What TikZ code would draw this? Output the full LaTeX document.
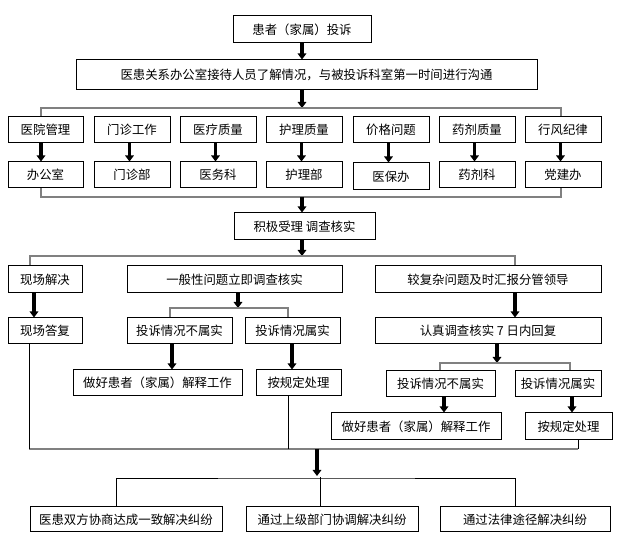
\documentclass[tikz,border=0pt]{standalone}
\usepackage{fontspec}
\newfontfamily\cjk{Noto Sans CJK SC}
\usetikzlibrary{arrows.meta,calc}
\definecolor{lg}{RGB}{128,128,128}
\begin{document}
\begin{tikzpicture}[x=1pt,y=-1pt,
  box/.style={draw, line width=1pt, inner sep=0pt, font=\cjk\fontsize{12.4}{14}\selectfont},
  arr/.style={line width=3.6pt, -{Triangle[width=8.5pt,length=6pt]}},
  gline/.style={draw=lg, line width=1.6pt},
  tline/.style={draw=black, line width=0.9pt}]
\useasboundingbox (0,0) rectangle (625,540);
% row A, B
\node[box, minimum width=138pt, minimum height=27pt] (A) at (302,29.5) {患者（家属）投诉};
\node[box, minimum width=461pt, minimum height=30pt] (B) at (306.5,75) {医患关系办公室接待人员了解情况，与被投诉科室第一时间进行沟通};
% categories
\node[box, minimum width=75pt, minimum height=26pt] (c1) at (45.5,130) {医院管理};
\node[box, minimum width=76pt, minimum height=26pt] (c2) at (132,130) {门诊工作};
\node[box, minimum width=76pt, minimum height=26pt] (c3) at (218,130) {医疗质量};
\node[box, minimum width=76pt, minimum height=26pt] (c4) at (304,130) {护理质量};
\node[box, minimum width=76pt, minimum height=26pt] (c5) at (391,130) {价格问题};
\node[box, minimum width=76pt, minimum height=26pt] (c6) at (477,130) {药剂质量};
\node[box, minimum width=76pt, minimum height=26pt] (c7) at (563,130) {行风纪律};
\node[box, minimum width=75pt, minimum height=26pt] (d1) at (45.5,175) {办公室};
\node[box, minimum width=76pt, minimum height=26pt] (d2) at (132,175) {门诊部};
\node[box, minimum width=76pt, minimum height=26pt] (d3) at (218,175) {医务科};
\node[box, minimum width=76pt, minimum height=26pt] (d4) at (304,175) {护理部};
\node[box, minimum width=76pt, minimum height=27pt] (d5) at (391,176.5) {医保办};
\node[box, minimum width=76pt, minimum height=26pt] (d6) at (477,175) {药剂科};
\node[box, minimum width=76pt, minimum height=26pt] (d7) at (563,175) {党建办};
% C
\node[box, minimum width=141pt, minimum height=27pt] (C) at (304.5,226.5) {积极受理 调查核实};
% D row
\node[box, minimum width=74pt, minimum height=27pt] (D1) at (45,279.5) {现场解决};
\node[box, minimum width=215pt, minimum height=27pt] (D2) at (234.5,279.5) {一般性问题立即调查核实};
\node[box, minimum width=226pt, minimum height=27pt] (D3) at (488,279.5) {较复杂问题及时汇报分管领导};
% E row
\node[box, minimum width=74pt, minimum height=26pt] (E1) at (45,331) {现场答复};
\node[box, minimum width=105pt, minimum height=26pt] (E2) at (179.5,331) {投诉情况不属实};
\node[box, minimum width=95pt, minimum height=26pt] (E3) at (292.5,331) {投诉情况属实};
\node[box, minimum width=226pt, minimum height=26pt] (E4) at (488,331) {认真调查核实 7 日内回复};
% F row
\node[box, minimum width=169pt, minimum height=26pt] (F1) at (157.5,383) {做好患者（家属）解释工作};
\node[box, minimum width=85pt, minimum height=26pt] (F2) at (298.5,383) {按规定处理};
\node[box, minimum width=109pt, minimum height=26pt] (F3) at (440.5,384) {投诉情况不属实};
\node[box, minimum width=86pt, minimum height=26pt] (F4) at (558,384) {投诉情况属实};
% G row
\node[box, minimum width=170pt, minimum height=27pt] (G1) at (416,426.5) {做好患者（家属）解释工作};
\node[box, minimum width=87pt, minimum height=27pt] (G2) at (568.5,426.5) {按规定处理};
% H row
\node[box, minimum width=192pt, minimum height=25pt] (H1) at (126,519.5) {医患双方协商达成一致解决纠纷};
\node[box, minimum width=172pt, minimum height=25pt] (H2) at (332,519.5) {通过上级部门协调解决纠纷};
\node[box, minimum width=170pt, minimum height=25pt] (H3) at (525,519.5) {通过法律途径解决纠纷};

% junction coordinates
\coordinate (j1) at (302,108);
\coordinate (j2) at (302,197);
\coordinate (j3) at (302,256);
\coordinate (j4) at (238,308);
\coordinate (j5) at (497,363);
\coordinate (m)  at (317,449);
\coordinate (m1) at (29,449);
\coordinate (m2) at (578,449);
\coordinate (j6) at (317,476);

% A -> B -> categories
\draw[arr] (A.south) -- ($(B.north)+(-4.5,0)$);
\draw[arr] ($(B.south)+(-4.5,0)$) -- (j1);
\draw[gline] ($(c1.north)+(-4.5,0)$) |- (j1) -| ($(c7.north)+(-2,0)$);
\draw[arr] ($(c1.south)+(-4.5,0)$) -- ($(d1.north)+(-4.5,0)$);
\foreach \i in {2,3,4,5,6,7}{
  \draw[arr] ($(c\i.south)+(-2.5,0)$) -- ($(d\i.north)+(-2.5,0)$);
}
\draw[gline] ($(d1.south)+(-4.5,0)$) |- (j2) -| ($(d7.south)+(-2,0)$);
\draw[arr] (j2) -- ($(C.north)+(-2.5,0)$);
% C -> D
\draw[arr] ($(C.south)+(-2.5,0)$) -- (j3);
\draw[gline] ($(D1.north)+(-15,0)$) |- (j3) -| ($(D3.north)+(27,0)$);
% D -> E
\draw[arr] ($(D1.south)+(-11,0)$) -- ($(E1.north)+(-11,0)$);
\draw[arr] ($(D2.south)+(3.5,0)$) -- (j4);
\draw[gline] ($(E2.north)+(-9.5,0)$) |- (j4) -| ($(E3.north)+(-4.5,0)$);
\draw[arr] ($(D3.south)+(27,0)$) -- ($(E4.north)+(27,0)$);
% E -> F
\draw[arr] ($(E2.south)+(-7.5,0)$) -- ($(F1.north)+(14.5,0)$);
\draw[arr] ($(E3.south)+(-0.5,0)$) -- ($(F2.north)+(-6.5,0)$);
\draw[arr] ($(E4.south)+(9,0)$) -- (j5);
\draw[gline] ($(F3.north)+(-0.5,0)$) |- (j5) -| ($(F4.north)+(12,0)$);
% F -> G
\draw[arr] ($(F3.south)+(3.5,0)$) -- ($(G1.north)+(28,0)$);
\draw[arr] ($(F4.south)+(14,0)$) -- ($(G2.north)+(3.5,0)$);
% merge
\draw[gline] (m1) -- (m2);
\draw[tline] ($(E1.south)+(-16,0)$) -- (m1);
\coordinate (f2b) at ($(F2.south)+(-10.5,0)$);
\draw[tline] (f2b) -- (f2b |- m);
\draw[tline] ($(G2.south)+(9.5,0)$) -- (m2);
\draw[arr] (m) -- (j6);
% bottom bracket
\draw[tline] ($(H1.north)+(-10,0)$) |- ($(j6)+(0,2)$) -| ($(H3.north)+(-10,0)$);
\coordinate (h2t) at ($(H2.north)+(-12,0)$);
\draw[tline] (h2t) -- ($(h2t)+(0,-29)$);
\end{tikzpicture}
\end{document}
